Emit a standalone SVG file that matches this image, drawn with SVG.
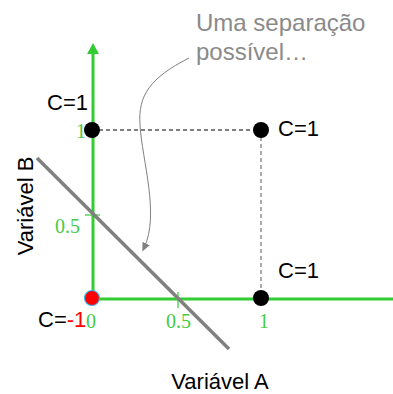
<svg xmlns="http://www.w3.org/2000/svg" width="393" height="394" viewBox="0 0 393 394">
<style>
.ax{stroke:#33cc33;stroke-width:3;fill:none}
.tk{stroke:#33cc33;stroke-width:1.2}
.num{font-family:"Liberation Serif",serif;font-size:20px;fill:#44cc44}
.lbl{font-family:"Liberation Sans",Arial,sans-serif;font-size:22px;fill:#000}
.pt{fill:#000}
</style>
<defs>
<marker id="ah" markerWidth="10" markerHeight="10" refX="5" refY="5" orient="auto" markerUnits="userSpaceOnUse">
<path d="M0,1 L9,5 L0,9 Z" fill="#808080"/>
</marker>
</defs>
<rect width="393" height="394" fill="#fff"/>
<g id="axes">
<line class="ax" x1="93" y1="298" x2="93" y2="52"/>
<polygon points="93,43 87,54 99,54" fill="#33cc33"/>
<line class="ax" x1="93" y1="299" x2="393" y2="299"/>
<line class="tk" x1="85" y1="215" x2="100" y2="215"/>
<line class="tk" x1="178" y1="292" x2="178" y2="308"/>
<text class="num" x="76" y="138">1</text>
<text class="num" x="55" y="233">0.5</text>
<text class="num" x="86" y="328">0</text>
<text class="num" x="166" y="328">0.5</text>
<text class="num" x="259" y="328">1</text>
</g>
<g id="connectors">
<line x1="92" y1="130" x2="261" y2="130" stroke="#000" stroke-width="1" stroke-dasharray="4,3"/>
<line x1="261" y1="130" x2="261" y2="298" stroke="#808080" stroke-width="1.3" stroke-dasharray="4,3"/>
<line x1="37" y1="158" x2="229" y2="349" stroke="#808080" stroke-width="3.5"/>
<path d="M189,58 C150,78 138,95 140,125 C142,160 160,215 144,248" fill="none" stroke="#808080" stroke-width="1" marker-end="url(#ah)"/>
</g>
<g id="p00">
<circle cx="92" cy="298" r="7.5" fill="#ff0000" stroke="#33bbee" stroke-width="1.2"/>
<text class="lbl" x="38" y="327">C=<tspan fill="#ff0000">-1</tspan></text>
</g>
<g id="p01">
<circle class="pt" cx="92" cy="130" r="8"/>
<text class="lbl" x="47" y="110">C=1</text>
</g>
<g id="p11">
<circle class="pt" cx="261" cy="130" r="8"/>
<text class="lbl" x="278" y="136">C=1</text>
</g>
<g id="p10">
<circle class="pt" cx="261" cy="298" r="8"/>
<text class="lbl" x="278" y="278">C=1</text>
</g>
<g id="annotation">
<text font-family="'Liberation Sans',Arial,sans-serif" font-size="24px" fill="#8a8a8a"><tspan x="196" y="31">Uma separação</tspan><tspan x="196" y="60">possível…</tspan></text>
</g>
<text class="lbl" x="220" y="389" text-anchor="middle">Variável A</text>
<text class="lbl" transform="translate(33,206) rotate(-90)" text-anchor="middle">Variável B</text>
</svg>
